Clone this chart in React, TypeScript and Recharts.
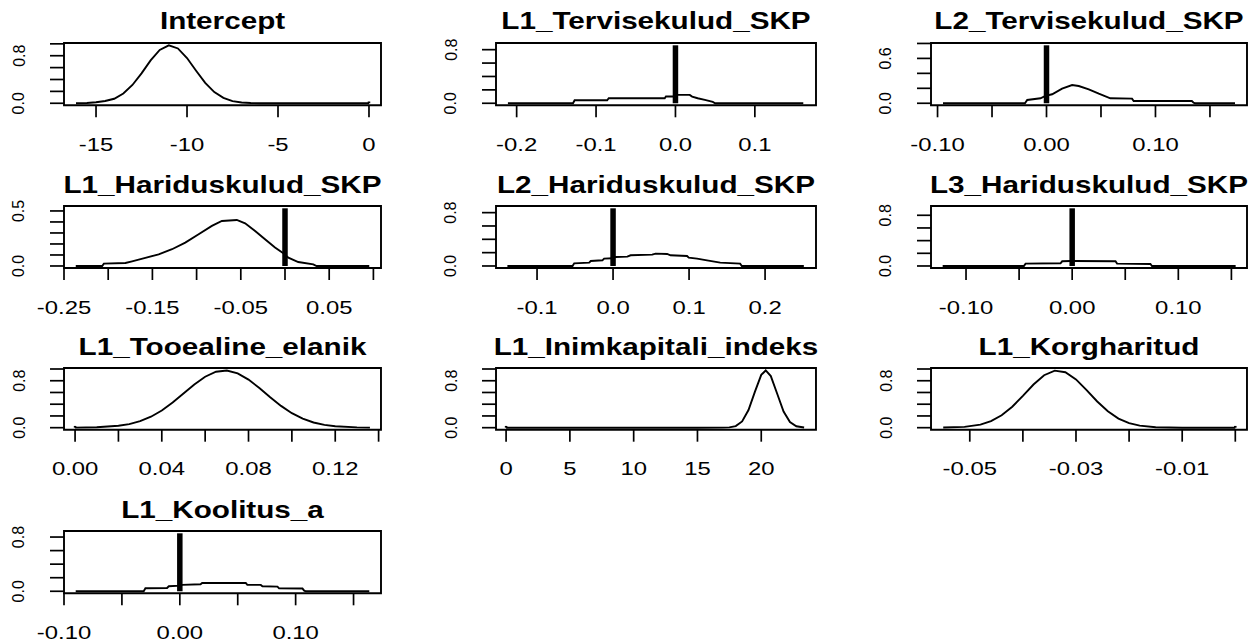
import { LineChart, Line, XAxis, YAxis, ReferenceLine, ReferenceArea } from "recharts";

// ─── Data ────────────────────────────────────────────────────────────────────

const titles = [
  "Intercept",
  "L1_Tervisekulud_SKP",
  "L2_Tervisekulud_SKP",
  "L1_Hariduskulud_SKP",
  "L2_Hariduskulud_SKP",
  "L3_Hariduskulud_SKP",
  "L1_Tooealine_elanik",
  "L1_Inimkapitali_indeks",
  "L1_Korgharitud",
  "L1_Koolitus_a",
];

// posterior density curves (x, height)
const interceptX = [-16.1, -15.5, -15, -14.5, -14, -13.5, -13, -12.5, -12, -11.5, -11, -10.5, -10, -9.5, -9, -8.5, -8, -7.5, -7, -6.5, -6, -4, -2, 0];
const interceptY = [0.001, 0.005, 0.018, 0.038, 0.076, 0.164, 0.308, 0.504, 0.721, 0.897, 0.974, 0.922, 0.761, 0.548, 0.343, 0.188, 0.09, 0.037, 0.013, 0.004, 0.001, 0, 0, 0];

const terv1X = [-0.211, -0.129, -0.127, -0.086, -0.084, -0.0135, -0.012, -0.0013, 0.0013, 0.018, 0.021, 0.028, 0.037, 0.047, 0.05, 0.161];
const terv1Y = [0, 0, 0.045, 0.045, 0.075, 0.075, 0.1, 0.1, 0.125, 0.125, 0.1, 0.075, 0.05, 0.02, 0, 0];

const terv2X = [-0.095, -0.0198, -0.0177, -0.0055, -0.001, 0.0052, 0.0143, 0.0235, 0.0296, 0.0388, 0.048, 0.0586, 0.0785, 0.08, 0.1334, 0.135, 0.1364, 0.173];
const terv2Y = [0, 0, 0.044, 0.067, 0.098, 0.12, 0.196, 0.244, 0.231, 0.187, 0.129, 0.067, 0.062, 0.031, 0.031, 0.009, 0, 0];

const har1X = [-0.2367, -0.2068, -0.2049, -0.1805, -0.173, -0.158, -0.1429, -0.1278, -0.1128, -0.0977, -0.0827, -0.0714, -0.0545, -0.0451, -0.0338, -0.0226, -0.0113, -0.0019, 0.0038, 0.015, 0.032, 0.0357, 0.0953];
const har1Y = [0, 0, 0.021, 0.027, 0.042, 0.073, 0.106, 0.152, 0.212, 0.288, 0.364, 0.409, 0.418, 0.388, 0.318, 0.242, 0.167, 0.115, 0.076, 0.036, 0.015, 0, 0];

const har2X = [-0.139, -0.0533, -0.0511, -0.0314, -0.0293, -0.014, -0.0118, 0, 0.0035, 0.0188, 0.0231, 0.0515, 0.0559, 0.0712, 0.0755, 0.0974, 0.0996, 0.1105, 0.1236, 0.141, 0.1672, 0.1694, 0.251];
const har2Y = [0, 0, 0.04, 0.05, 0.075, 0.085, 0.11, 0.115, 0.135, 0.14, 0.16, 0.17, 0.185, 0.18, 0.16, 0.15, 0.125, 0.11, 0.085, 0.05, 0.035, 0, 0];

const har3X = [-0.122, -0.0455, -0.0439, -0.011, -0.0094, -0.0016, 0.0016, 0.0408, 0.0423, 0.0737, 0.0752, 0.154];
const har3Y = [0, 0, 0.037, 0.042, 0.074, 0.079, 0.079, 0.074, 0.037, 0.032, 0, 0];

const tooX = [0, 0.01, 0.02, 0.025, 0.03, 0.035, 0.04, 0.045, 0.05, 0.055, 0.06, 0.065, 0.07, 0.075, 0.08, 0.085, 0.09, 0.095, 0.1, 0.105, 0.11, 0.115, 0.12, 0.13, 0.136];
const tooY = [0.001, 0.007, 0.032, 0.061, 0.111, 0.187, 0.293, 0.428, 0.582, 0.737, 0.868, 0.953, 0.974, 0.926, 0.82, 0.676, 0.519, 0.371, 0.247, 0.153, 0.088, 0.047, 0.024, 0.005, 0.001];

const inimX = [0, 5, 10, 15, 17, 17.5, 18, 18.5, 19, 19.5, 20, 20.35, 20.75, 21.25, 21.75, 22.25, 22.75, 23.36];
const inimY = [0, 0, 0, 0, 0.001, 0.005, 0.027, 0.107, 0.3, 0.611, 0.901, 0.975, 0.879, 0.578, 0.275, 0.095, 0.024, 0.003];

const korgX = [-0.055, -0.051, -0.048, -0.046, -0.044, -0.042, -0.04, -0.038, -0.036, -0.034, -0.032, -0.03, -0.028, -0.026, -0.024, -0.022, -0.02, -0.018, -0.015, -0.01, -0.005, 0];
const korgY = [0.002, 0.014, 0.053, 0.111, 0.211, 0.357, 0.542, 0.736, 0.894, 0.972, 0.945, 0.823, 0.641, 0.446, 0.279, 0.155, 0.078, 0.035, 0.008, 0, 0, 0];

const kooX = [-0.0899, -0.0312, -0.0297, -0.011, -0.0095, 0.0006, 0.002, 0.0179, 0.0193, 0.0569, 0.0583, 0.0699, 0.0713, 0.0843, 0.0857, 0.1059, 0.1074, 0.1088, 0.1636];
const kooY = [0, 0, 0.044, 0.049, 0.074, 0.084, 0.094, 0.104, 0.123, 0.123, 0.094, 0.094, 0.074, 0.069, 0.044, 0.04, 0.01, 0, 0];

// probability mass at zero (vertical bar at 0)
const probZero = [0.03, 0.865, 0.775, 0.524, 0.865, 0.91, 0.03, 0.03, 0.03, 0.855];
// top of the y range per panel
const yMax = [0.975, 0.865, 0.775, 0.524, 0.865, 0.91, 0.978, 0.978, 0.978, 0.855];

// x range shown by each box
const xRange = [
  [-16.76, 0.66],
  [-0.226, 0.177],
  [-0.106, 0.184],
  [-0.25, 0.1086],
  [-0.154, 0.267],
  [-0.133, 0.1647],
  [-0.0051, 0.1411],
  [-0.79, 24.29],
  [-0.0573, 0.0022],
  [-0.1, 0.1737],
];

// x ticks and their labels ("" = tick without label)
const xTicks = [
  [-15, -10, -5, 0],
  [-0.2, -0.1, 0, 0.1],
  [-0.1, -0.05, 0, 0.05, 0.1, 0.15],
  [-0.25, -0.2, -0.15, -0.1, -0.05, 0, 0.05, 0.1],
  [-0.1, 0, 0.1, 0.2],
  [-0.1, -0.05, 0, 0.05, 0.1, 0.15],
  [0, 0.02, 0.04, 0.06, 0.08, 0.1, 0.12, 0.14],
  [0, 5, 10, 15, 20],
  [-0.05, -0.04, -0.03, -0.02, -0.01, 0],
  [-0.1, -0.05, 0, 0.05, 0.1, 0.15],
];
const xLabels = [
  ["-15", "-10", "-5", "0"],
  ["-0.2", "-0.1", "0.0", "0.1"],
  ["-0.10", "", "0.00", "", "0.10", ""],
  ["-0.25", "", "-0.15", "", "-0.05", "", "0.05", ""],
  ["-0.1", "0.0", "0.1", "0.2"],
  ["-0.10", "", "0.00", "", "0.10", ""],
  ["0.00", "", "0.04", "", "0.08", "", "0.12", ""],
  ["0", "5", "10", "15", "20"],
  ["-0.05", "", "-0.03", "", "-0.01", ""],
  ["-0.10", "", "0.00", "", "0.10", ""],
];

const yTicksFine = [0, 0.2, 0.4, 0.6, 0.8, 1.0];
const yTicksHalf = [0, 0.1, 0.2, 0.3, 0.4, 0.5];
const yTicks = [yTicksFine, yTicksFine, yTicksFine, yTicksHalf, yTicksFine, yTicksFine, yTicksFine, yTicksFine, yTicksFine, yTicksFine];
const yLabels = [
  ["0.0", "0.8"],
  ["0.0", "0.8"],
  ["0.0", "0.6"],
  ["0.0", "0.5"],
  ["0.0", "0.8"],
  ["0.0", "0.8"],
  ["0.0", "0.8"],
  ["0.0", "0.8"],
  ["0.0", "0.8"],
  ["0.0", "0.8"],
];

const curvesX = [interceptX, terv1X, terv2X, har1X, har2X, har3X, tooX, inimX, korgX, kooX];
const curvesY = [interceptY, terv1Y, terv2Y, har1Y, har2Y, har3Y, tooY, inimY, korgY, kooY];

// ─── Layout ──────────────────────────────────────────────────────────────────

const COL_LEFT = [64, 496, 931];
const COL_RIGHT = [381, 816, 1247];
const ROW_TOP = [42.7, 206, 368.3, 531];
const ROW_BOTTOM = [105, 268, 430, 593.3];

const ML = 60;
const MR = 4;
const MT = 22;
const MB = 50;
const STRETCH = 1.29;
const FONT = '"Liberation Sans", Arial, sans-serif';

// ─── Ticks ───────────────────────────────────────────────────────────────────

function XTickLabel(props: any) {
  const { x, payload, ticks, labels, baseline } = props;
  const i = ticks.findIndex((t: number) => Math.abs(t - payload.value) < 1e-9);
  const label = i >= 0 ? labels[i] : "";
  if (!label) return <g />;
  return (
    <g transform={`translate(${x},${baseline})`}>
      <text transform={`scale(${STRETCH},1)`} textAnchor="middle" fontSize={18.5} fontFamily={FONT} fill="#000">
        {label}
      </text>
    </g>
  );
}

function YTickLabel(props: any) {
  const { y, payload, labels } = props;
  const label = labels.find((l: string) => Math.abs(parseFloat(l) - payload.value) < 1e-9);
  if (!label) return <g />;
  return (
    <text
      x={ML - 39.5}
      y={y}
      transform={`rotate(-90, ${ML - 39.5}, ${y})`}
      textAnchor="middle"
      fontSize={16}
      fontFamily={FONT}
      fill="#000"
    >
      {label}
    </text>
  );
}

// ─── Panel ───────────────────────────────────────────────────────────────────

function DensityPanel({ i }: { i: number }) {
  const col = i % 3;
  const row = Math.floor(i / 3);
  const left = COL_LEFT[col];
  const top = ROW_TOP[row];
  const boxW = COL_RIGHT[col] - left;
  const boxH = ROW_BOTTOM[row] - top;
  const w = boxW + ML + MR;
  const h = boxH + MT + MB;
  const data = curvesX[i].map((x, k) => ({ x, y: curvesY[i][k] }));
  const yDomain = [-0.035 * yMax[i], 1.04 * yMax[i]];
  const yTicksIn = yTicks[i].filter((t) => t <= yDomain[1]);
  const xDomain = xRange[i];
  const big = probZero[i] > 0.2;

  return (
    <div style={{ position: "absolute", left: left - ML, top: top - MT }}>
      <LineChart width={w} height={h} data={data} margin={{ top: MT, right: MR, bottom: 0, left: 0 }}>
        <XAxis
          dataKey="x"
          type="number"
          domain={xDomain}
          allowDataOverflow
          ticks={xTicks[i]}
          interval={0}
          height={MB}
          tickSize={12}
          tickMargin={0}
          axisLine={false}
          tickLine={{ stroke: "#000", strokeWidth: 1.7 }}
          tick={(p: any) => (
            <XTickLabel {...p} ticks={xTicks[i]} labels={xLabels[i]} baseline={MT + boxH + 45.7} />
          )}
        />
        <YAxis
          type="number"
          domain={yDomain}
          allowDataOverflow
          ticks={yTicksIn}
          interval={0}
          width={ML}
          tickSize={14}
          tickMargin={0}
          axisLine={false}
          tickLine={{ stroke: "#000", strokeWidth: 1.7 }}
          tick={(p: any) => <YTickLabel {...p} labels={yLabels[i]} />}
        />
        <ReferenceArea
          x1={xDomain[0]}
          x2={xDomain[1]}
          y1={yDomain[0]}
          y2={yDomain[1]}
          fill="none"
          stroke="#000"
          strokeWidth={1.9}
          ifOverflow="visible"
        />
        <Line
          dataKey="y"
          type="linear"
          stroke="#000"
          strokeWidth={1.9}
          dot={false}
          isAnimationActive={false}
        />
        <ReferenceLine
          segment={[
            { x: 0, y: 0 },
            { x: 0, y: probZero[i] },
          ]}
          stroke="#000"
          strokeWidth={big ? 5.5 : 2.5}
          ifOverflow="visible"
        />
      </LineChart>
    </div>
  );
}

// ─── App ─────────────────────────────────────────────────────────────────────

export default function App() {
  return (
    <div style={{ position: "absolute", left: 0, top: 0, width: 1252, height: 644, background: "#fff" }}>
      {titles.map((_, i) => (
        <DensityPanel key={i} i={i} />
      ))}
      <svg width={1252} height={644} style={{ position: "absolute", left: 0, top: 0, pointerEvents: "none" }}>
        {titles.map((t, i) => {
          const col = i % 3;
          const row = Math.floor(i / 3);
          const cx = (COL_LEFT[col] + COL_RIGHT[col]) / 2;
          const y = ROW_TOP[row] - 13.5;
          return (
            <g key={t} transform={`translate(${cx},${y})`}>
              <text
                transform={`scale(${STRETCH},1)`}
                textAnchor="middle"
                fontSize={23}
                fontWeight="bold"
                fontFamily={FONT}
                fill="#000"
              >
                {t}
              </text>
            </g>
          );
        })}
      </svg>
    </div>
  );
}
